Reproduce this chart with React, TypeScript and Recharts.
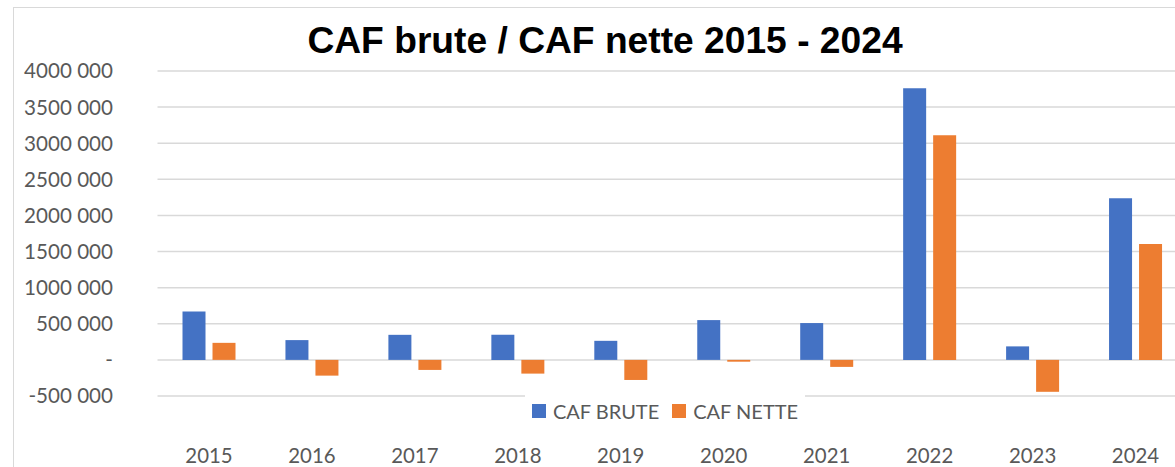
import React from 'react';
import { BarChart, Bar, XAxis, YAxis, CartesianGrid, Legend } from 'recharts';

const categories = ['2015', '2016', '2017', '2018', '2019', '2020', '2021', '2022', '2023', '2024'];
const cafBrute = [671000, 274000, 347000, 347000, 264000, 551000, 510000, 3760000, 187000, 2237000];
const cafNette = [236000, -218000, -139000, -190000, -278000, -25000, -97000, 3109000, -442000, 1604000];
const seriesNames = ['CAF BRUTE', 'CAF NETTE'];
const seriesColors = ['#4472C4', '#ED7D31'];
const yTicks = [-500000, 0, 500000, 1000000, 1500000, 2000000, 2500000, 3000000, 3500000, 4000000];
const yTickLabels = ['-500 000', '-', '500 000', '1000 000', '1500 000', '2000 000', '2500 000', '3000 000', '3500 000', '4000 000'];

const data = categories.map((c, i) => ({ year: c, brute: cafBrute[i], nette: cafNette[i] }));

const FONT = 'Lato, "Noto Sans", sans-serif';
const TEXT = '#595959';

const YTick = (props: any) => {
  const { y, payload } = props;
  const idx = yTicks.indexOf(payload.value);
  return (
    <text x={113} y={y} dy="0.36em" textAnchor="end" fill={TEXT} fontFamily={FONT} fontSize={20.6}>
      {idx >= 0 ? yTickLabels[idx] : ''}
    </text>
  );
};

const XTick = (props: any) => {
  const { x, payload } = props;
  return (
    <text x={x} y={463} textAnchor="middle" fill={TEXT} fontFamily={FONT} fontSize={20.4}>
      {payload.value}
    </text>
  );
};

const LegendContent = () => (
  <div
    style={{
      display: 'flex',
      alignItems: 'center',
      justifyContent: 'center',
      height: '100%',
      background: '#ffffff',
      fontFamily: FONT,
      fontSize: 20,
      color: TEXT,
    }}
  >
    {seriesNames.map((n, i) => (
      <div key={n} style={{ display: 'flex', alignItems: 'center', marginLeft: i === 0 ? 0 : 13 }}>
        <span style={{ width: 14, height: 14, background: seriesColors[i], display: 'inline-block', marginRight: 7 }} />
        <span>{n}</span>
      </div>
    ))}
  </div>
);

export default function App() {
  return (
    <div style={{ position: 'fixed', left: 0, top: 0, width: 1175, height: 467, overflow: 'hidden', background: '#fff' }}>
      <div
        style={{
          position: 'absolute',
          left: 13,
          top: 7,
          width: 1300,
          height: 600,
          border: '1.5px solid #d9d9d9',
          boxSizing: 'border-box',
        }}
      />
      <div
        style={{
          position: 'absolute',
          left: 0,
          top: 21.5,
          width: 1210,
          textAlign: 'center',
          fontFamily: '"Liberation Sans", Arial, sans-serif',
          fontWeight: 'bold',
          fontSize: 37.2,
          lineHeight: '37px',
          color: '#000',
          whiteSpace: 'nowrap',
        }}
      >
        CAF brute / CAF nette 2015 - 2024
      </div>
      <div style={{ position: 'absolute', left: 0, top: 0 }}>
        <BarChart
          width={1200}
          height={467}
          data={data}
          margin={{ top: 71, right: 13, left: 0, bottom: 0 }}
          barSize={23}
          barGap={7}
        >
          <CartesianGrid vertical={false} stroke="#d9d9d9" strokeWidth={1.5} />
          <XAxis
            dataKey="year"
            height={71}
            axisLine={false}
            tickLine={false}
            tick={<XTick />}
            interval={0}
          />
          <YAxis
            width={157.5}
            domain={[-500000, 4000000]}
            ticks={yTicks}
            interval={0}
            axisLine={false}
            tickLine={false}
            tick={<YTick />}
          />
          <Legend
            layout="horizontal"
            verticalAlign="middle"
            align="center"
            content={<LegendContent />}
            wrapperStyle={{ left: 525, top: 395, width: 280, height: 31 }}
          />
          <Bar dataKey="brute" name={seriesNames[0]} fill={seriesColors[0]} isAnimationActive={false} />
          <Bar dataKey="nette" name={seriesNames[1]} fill={seriesColors[1]} isAnimationActive={false} />
        </BarChart>
      </div>
    </div>
  );
}
